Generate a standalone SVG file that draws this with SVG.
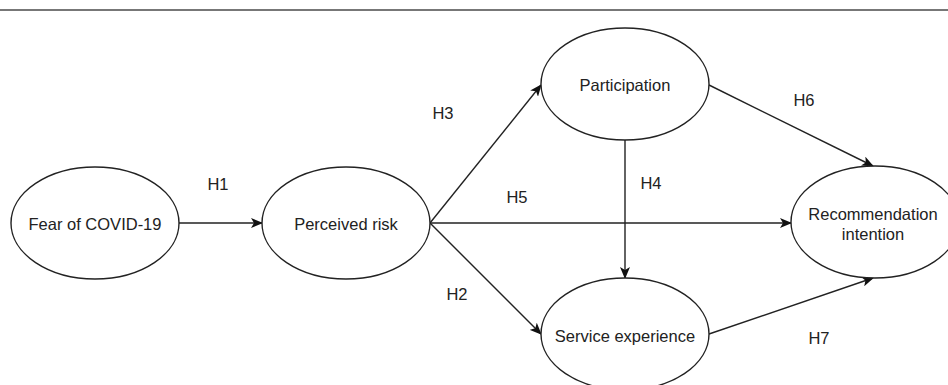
<svg xmlns="http://www.w3.org/2000/svg" width="948" height="385" viewBox="0 0 948 385">
<style>
.node ellipse{fill:#fff;stroke:#222;stroke-width:1.4}
text{font-family:"Liberation Sans",Arial,Helvetica,sans-serif;font-size:16.5px;fill:#222;text-anchor:middle;dominant-baseline:central}
.edges line{stroke:#222;stroke-width:1.4;marker-end:url(#arr)}
</style>
<defs>
<marker id="arr" viewBox="0 0 12 10" refX="11" refY="5" markerWidth="12" markerHeight="10" markerUnits="userSpaceOnUse" orient="auto">
<path d="M0,0 L12,5 L0,10 L3,5 Z" fill="#111"/>
</marker>
</defs>
<rect width="948" height="385" fill="#fff"/>
<line x1="0" y1="10" x2="948" y2="10" stroke="#777" stroke-width="2"/>
<g class="edges">
<line x1="179" y1="223" x2="262" y2="223"/>
<line x1="430" y1="223" x2="541" y2="85"/>
<line x1="430" y1="223" x2="791" y2="223"/>
<line x1="430" y1="223" x2="541" y2="334"/>
<line x1="625" y1="140" x2="625" y2="278"/>
<line x1="709" y1="85" x2="873" y2="166"/>
<line x1="709" y1="334" x2="873" y2="278"/>
</g>
<g class="labels">
<text x="218" y="184">H1</text>
<text x="443" y="113">H3</text>
<text x="517" y="197">H5</text>
<text x="457" y="294">H2</text>
<text x="651" y="183">H4</text>
<text x="804" y="100">H6</text>
<text x="819" y="338">H7</text>
</g>
<g class="node" id="fear"><ellipse cx="95" cy="223" rx="84" ry="56"/><text x="95" y="224">Fear of COVID-19</text></g>
<g class="node" id="risk"><ellipse cx="346" cy="223" rx="84" ry="56"/><text x="346" y="224">Perceived risk</text></g>
<g class="node" id="participation"><ellipse cx="625" cy="84" rx="84" ry="56"/><text x="625" y="85">Participation</text></g>
<g class="node" id="service"><ellipse cx="625" cy="334" rx="84" ry="56"/><text x="625" y="336">Service experience</text></g>
<g class="node" id="recommendation"><ellipse cx="875" cy="222" rx="84" ry="56"/><text x="873" y="214">Recommendation</text><text x="873" y="234">intention</text></g>
</svg>
